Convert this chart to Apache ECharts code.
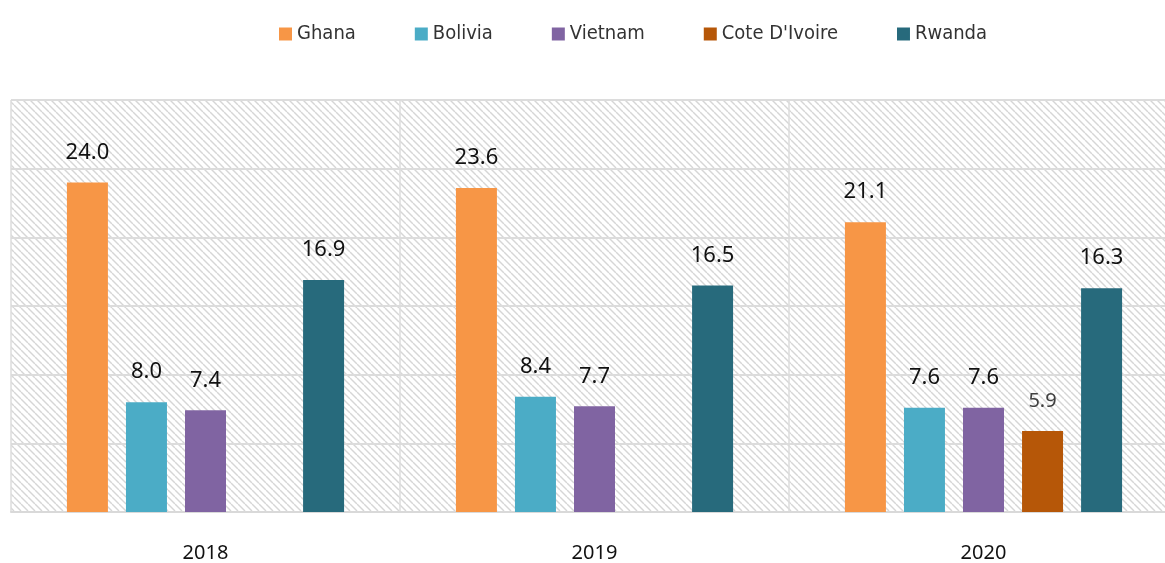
<!DOCTYPE html>
<html>
<head>
<meta charset="utf-8">
<script src="https://cdn.jsdelivr.net/npm/echarts@6/dist/echarts.min.js"></script>
<style>
  html, body { margin: 0; padding: 0; background: #fff; }
  #chart { width: 1165px; height: 563px; }
</style>
</head>
<body>
<div id="chart"></div>
<script>
var years = ["2018", "2019", "2020"];
var ghana = [24.0, 23.6, 21.1];
var bolivia = [8.0, 8.4, 7.6];
var vietnam = [7.4, 7.7, 7.6];
var coteDIvoire = [null, null, 5.9];
var rwanda = [16.9, 16.5, 16.3];

var seriesNames = ["Ghana", "Bolivia", "Vietnam", "Cote D'Ivoire", "Rwanda"];
var seriesData = [ghana, bolivia, vietnam, coteDIvoire, rwanda];
var colors = ["#F79646", "#4BACC6", "#8064A2", "#B65708", "#276A7C"];

// hatch background for the plot area
var makeHatch = () => {
  var c = document.createElement("canvas");
  c.width = 7;
  c.height = 7;
  var ctx = c.getContext("2d");
  ctx.fillStyle = "#fff";
  ctx.fillRect(0, 0, 7, 7);
  ctx.strokeStyle = "#d6d6d6";
  ctx.lineWidth = 1.4;
  for (var k = -1; k <= 1; k++) {
    ctx.beginPath();
    ctx.moveTo(k * 7, 0);
    ctx.lineTo(k * 7 + 7, 7);
    ctx.stroke();
  }
  return c;
};

var chart = echarts.init(document.getElementById("chart"));

chart.setOption({
  backgroundColor: "#fff",
  animation: false,
  color: colors,
  legend: {
    top: 19,
    left: 274,
    icon: "rect",
    itemWidth: 13,
    itemHeight: 13,
    itemGap: 59,
    textStyle: { fontFamily: "DejaVu Sans Condensed", fontSize: 20, color: "#333" },
    data: seriesNames,
  },
  grid: {
    left: 11,
    width: 1167,
    top: 100,
    bottom: 51,
    outerBoundsMode: "none",
    containLabel: false,
    show: true,
    borderWidth: 0,
    backgroundColor: { image: makeHatch(), repeat: "repeat" },
  },
  xAxis: {
    type: "category",
    data: years,
    axisTick: { show: false },
    axisLine: { lineStyle: { color: "#d9d9d9", width: 2 } },
    axisLabel: {
      margin: 31,
      fontFamily: "Noto Sans",
      fontSize: 20,
      color: "#111",
    },
    splitLine: { show: true, lineStyle: { color: "#dcdcdc", width: 1.5 } },
  },
  yAxis: {
    type: "value",
    min: 0,
    max: 30,
    interval: 5,
    axisLabel: { show: false },
    axisLine: { show: false },
    axisTick: { show: false },
    splitLine: { lineStyle: { color: "#dcdcdc", width: 2 } },
  },
  series: seriesNames.map((name, i) => ({
    name: name,
    type: "bar",
    data: seriesData[i],
    barWidth: 41,
    barGap: "44%",
    itemStyle: { color: colors[i] },
    label: {
      show: true,
      position: "top",
      distance: i === 3 ? 20 : 19,
      formatter: (p) => p.value.toFixed(1),
      fontFamily: "Noto Sans",
      fontSize: i === 3 ? 20 : 22,
      color: i === 3 ? "#404040" : "#111",
    },
  })),
});
</script>
</body>
</html>
